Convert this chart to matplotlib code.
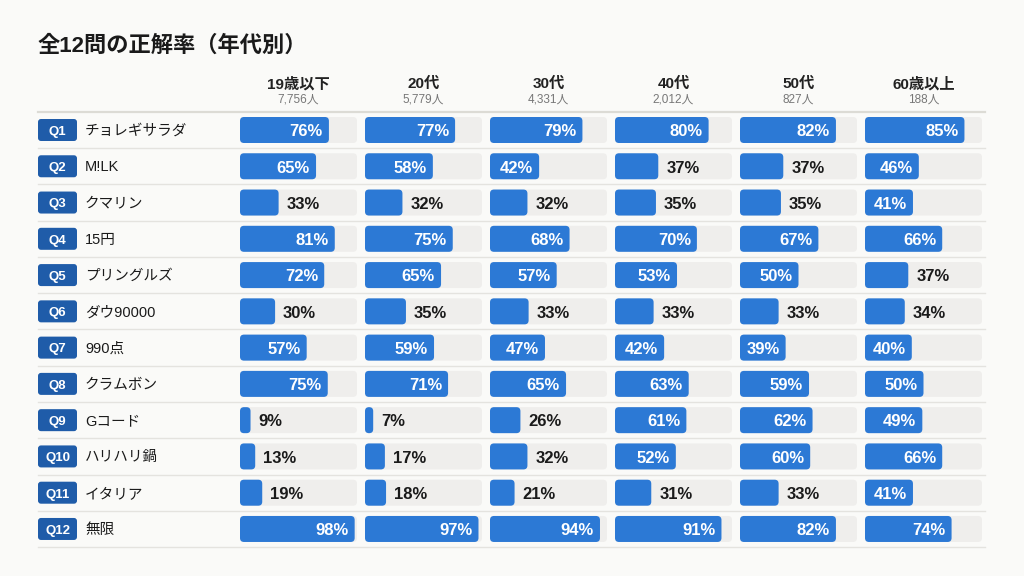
import matplotlib.pyplot as plt
from matplotlib.patches import FancyBboxPatch

plt.rcParams['font.family'] = ['Liberation Sans', 'Noto Sans CJK JP', 'DejaVu Sans']

title = "全12問の正解率（年代別）"
ages = ["19歳以下", "20代", "30代", "40代", "50代", "60歳以上"]
counts = ["7,756人", "5,779人", "4,331人", "2,012人", "827人", "188人"]
qids = ["Q1", "Q2", "Q3", "Q4", "Q5", "Q6", "Q7", "Q8", "Q9", "Q10", "Q11", "Q12"]
answers = ["チョレギサラダ", "M!LK", "クマリン", "15円", "プリングルズ", "ダウ90000",
           "990点", "クラムボン", "Gコード", "ハリハリ鍋", "イタリア", "無限"]

# correct rate (%) per age group, Q1..Q12
age_u19 = [76, 65, 33, 81, 72, 30, 57, 75, 9, 13, 19, 98]
age_20s = [77, 58, 32, 75, 65, 35, 59, 71, 7, 17, 18, 97]
age_30s = [79, 42, 32, 68, 57, 33, 47, 65, 26, 32, 21, 94]
age_40s = [80, 37, 35, 70, 53, 33, 42, 63, 61, 52, 31, 91]
age_50s = [82, 37, 35, 67, 50, 33, 39, 59, 62, 60, 33, 82]
age_60p = [85, 46, 41, 66, 37, 34, 40, 50, 49, 66, 41, 74]
rates = [age_u19, age_20s, age_30s, age_40s, age_50s, age_60p]

BG = "#fafaf8"
BAR = "#2c79d5"
TRACK = "#efeeec"
BADGE = "#1f5ca9"
LINE = "#e4e3df"

fig = plt.figure(figsize=(10.24, 5.76), dpi=100, facecolor=BG)
ax = fig.add_axes([0, 0, 1, 1])
ax.set_xlim(0, 1024)
ax.set_ylim(576, 0)
ax.axis("off")

# layout in pixels
col_x0 = 240
col_step = 125
col_w = 117
row_y0 = 130
row_step = 36.27
bar_h = 26
left = 38
right = 985

ax.text(left, 46, title, fontsize=16, fontweight="bold", color="#1a1a1a",
        va="center", ha="left")

for j, (age, cnt) in enumerate(zip(ages, counts)):
    cx = col_x0 + j * col_step + col_w / 2
    ax.text(cx, 84, age, fontsize=11, fontweight="bold", color="#222222",
            ha="center", va="center")
    ax.text(cx, 100, cnt, fontsize=8.5, color="#777777", ha="center", va="center")

ax.plot([left, right], [112, 112], color="#dcdbd5", lw=1.6)

for i in range(len(qids)):
    yc = row_y0 + i * row_step
    # separator below row
    ax.plot([left, right], [yc + row_step / 2, yc + row_step / 2], color=LINE, lw=1)
    # badge
    ax.add_patch(FancyBboxPatch((left + 2, yc - 9), 35, 18,
                                boxstyle="round,pad=2,rounding_size=3",
                                fc=BADGE, ec="none"))
    ax.text(left + 19.5, yc + 1.8, qids[i], fontsize=9.5, fontweight="bold",
            color="white", ha="center", va="center")
    ax.text(85, yc + 1, answers[i], fontsize=10.5, color="#1a1a1a",
            ha="left", va="center")
    for j in range(len(ages)):
        v = rates[j][i]
        x0 = col_x0 + j * col_step
        ax.add_patch(FancyBboxPatch((x0, yc - bar_h / 2), col_w, bar_h,
                                    boxstyle="round,pad=0,rounding_size=4",
                                    fc=TRACK, ec="none"))
        w = col_w * v / 100
        r = min(4, w / 2)
        ax.add_patch(FancyBboxPatch((x0, yc - bar_h / 2), w, bar_h,
                                    boxstyle=f"round,pad=0,rounding_size={r}",
                                    fc=BAR, ec="none"))
        label = f"{v}%"
        if v >= 38:
            ax.text(x0 + w - 6, yc + 1.8, label, fontsize=12, fontweight="bold",
                    color="white", ha="right", va="center")
        else:
            ax.text(x0 + w + 8, yc + 1.8, label, fontsize=12, fontweight="bold",
                    color="#1a1a1a", ha="left", va="center")

fig.savefig("out.png", dpi=100, facecolor=BG)
